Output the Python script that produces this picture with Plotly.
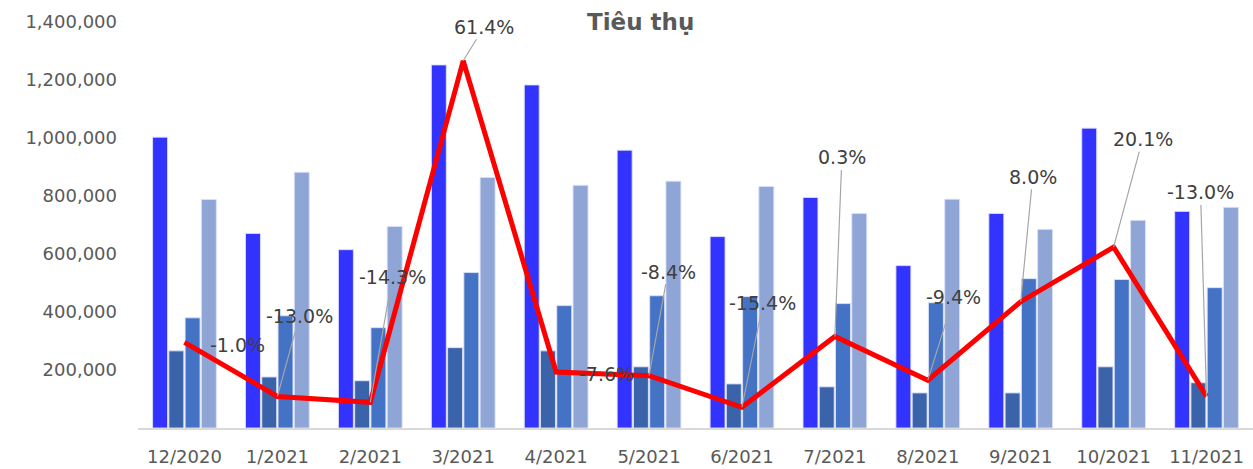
import plotly.graph_objects as go

categories = ["12/2020", "1/2021", "2/2021", "3/2021", "4/2021", "5/2021",
              "6/2021", "7/2021", "8/2021", "9/2021", "10/2021", "11/2021"]
series_1 = [1003000, 671000, 615000, 1252000, 1183000, 958000, 660000, 795000, 560000, 740000, 1034000, 747000]
series_2 = [266000, 176000, 163000, 277000, 266000, 211000, 152000, 142000, 121000, 121000, 211000, 156000]
series_3 = [380000, 387000, 346000, 536000, 422000, 456000, 453000, 429000, 432000, 515000, 512000, 484000]
series_4 = [788000, 882000, 695000, 864000, 837000, 851000, 833000, 740000, 789000, 685000, 716000, 761000]
growth_pct = [-1.0, -13.0, -14.3, 61.4, -7.6, -8.4, -15.4, 0.3, -9.4, 8.0, 20.1, -13.0]
growth_labels = ["-1.0%", "-13.0%", "-14.3%", "61.4%", "-7.6%", "-8.4%",
                 "-15.4%", "0.3%", "-9.4%", "8.0%", "20.1%", "-13.0%"]
y_ticks = [200000, 400000, 600000, 800000, 1000000, 1200000, 1400000]

# label offsets (pixels) and whether a leader line is shown
label_dx = [53, 22, 22, 21, 50, 19, 21, 7, 26, 12, 29, -6]
label_dy = [3, -80, -125, -34, 2, -104, -104, -179, -83, -125, -108, -204]
leader = [False, True, True, True, False, True, True, True, True, True, True, True]

bar_colors = ["#3333FF", "#3A63AA", "#4472C4", "#8FA5D6"]
series = [series_1, series_2, series_3, series_4]
names = ["Series 1", "Series 2", "Series 3", "Series 4"]

fig = go.Figure()
for s, c, n in zip(series, bar_colors, names):
    fig.add_trace(go.Bar(x=categories, y=s, name=n, marker_color=c,
                         marker_line=dict(color="rgba(220,225,250,0.9)", width=1)))

fig.add_trace(go.Scatter(x=categories, y=growth_pct, yaxis="y2", mode="lines",
                         line=dict(color="#FF0000", width=5), name="Tăng trưởng"))

font_family = "DejaVu Sans, Verdana, sans-serif"
for i, cat in enumerate(categories):
    fig.add_annotation(x=cat, y=growth_pct[i], xref="x", yref="y2",
                       text=growth_labels[i], showarrow=True, arrowhead=0,
                       arrowwidth=1.2,
                       arrowcolor="#A6A6A6" if leader[i] else "rgba(0,0,0,0)",
                       ax=label_dx[i], ay=label_dy[i],
                       font=dict(family=font_family, size=19, color="#404040"))

fig.add_annotation(text="<b>Tiêu thụ</b>", xref="paper", yref="paper",
                   x=(640 - 138) / 1115, y=1.0, xanchor="center", yanchor="middle",
                   showarrow=False, font=dict(family=font_family, size=23, color="#595959"))

fig.update_layout(
    width=1253, height=469,
    margin=dict(l=138, r=0, t=22, b=41),
    paper_bgcolor="white", plot_bgcolor="white",
    showlegend=False,
    barmode="group", bargap=0.3, bargroupgap=0.08,
    font=dict(family=font_family, size=18, color="#595959"),
    xaxis=dict(showgrid=False, showline=True, linecolor="#D9D9D9", linewidth=1.5,
               ticks="", ticklabelstandoff=12,
               tickfont=dict(family=font_family, size=18, color="#595959")),
    yaxis=dict(range=[0, 1400000], tickvals=y_ticks, tickformat=",d",
               showgrid=False, zeroline=False, showline=False,
               ticklabelstandoff=20,
               tickfont=dict(family=font_family, size=18, color="#595959")),
    yaxis2=dict(range=[-20, 70], overlaying="y", side="right", visible=False,
                showgrid=False, zeroline=False),
)

fig.write_html("out.html", config={"displayModeBar": False},
               post_script="document.body.style.margin='0';document.body.style.overflow='hidden';")
